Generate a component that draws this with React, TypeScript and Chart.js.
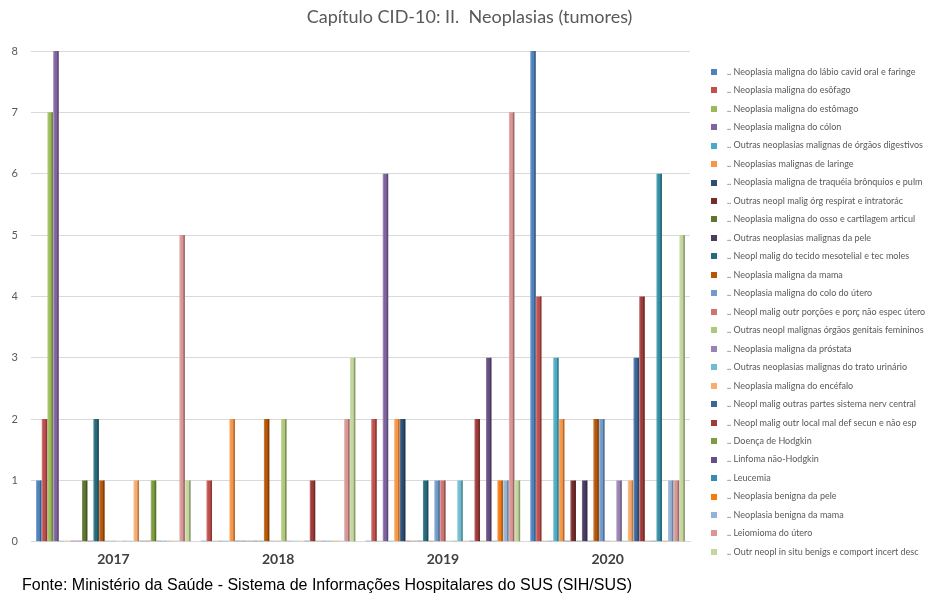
import React, { useEffect, useRef } from "react";
import { Chart, registerables } from "chart.js";

Chart.register(...registerables);

const years = ["2017", "2018", "2019", "2020"];

const seriesNames = [
  ".. Neoplasia maligna do lábio cavid oral e faringe",
  ".. Neoplasia maligna do esôfago",
  ".. Neoplasia maligna do estômago",
  ".. Neoplasia maligna do cólon",
  ".. Outras neoplasias malignas de órgãos digestivos",
  ".. Neoplasias malignas de laringe",
  ".. Neoplasia maligna de traquéia brônquios e pulm",
  ".. Outras neopl malig órg respirat e intratorác",
  ".. Neoplasia maligna do osso e cartilagem articul",
  ".. Outras neoplasias malignas da pele",
  ".. Neopl malig do tecido mesotelial e tec moles",
  ".. Neoplasia maligna da mama",
  ".. Neoplasia maligna do colo do útero",
  ".. Neopl malig outr porções e porç não espec útero",
  ".. Outras neopl malignas órgãos genitais femininos",
  ".. Neoplasia maligna da próstata",
  ".. Outras neoplasias malignas do trato urinário",
  ".. Neoplasia maligna do encéfalo",
  ".. Neopl malig outras partes sistema nerv central",
  ".. Neopl malig outr local mal def secun e não esp",
  ".. Doença de Hodgkin",
  ".. Linfoma não-Hodgkin",
  ".. Leucemia",
  ".. Neoplasia benigna da pele",
  ".. Neoplasia benigna da mama",
  ".. Leiomioma do útero",
  ".. Outr neopl in situ benigs e comport incert desc",
];

// Internações por ano, na mesma ordem de seriesNames
const values2017 = [1, 2, 7, 8, 0, 0, 0, 0, 1, 0, 2, 1, 0, 0, 0, 0, 0, 1, 0, 0, 1, 0, 0, 0, 0, 5, 1];
const values2018 = [0, 1, 0, 0, 0, 2, 0, 0, 0, 0, 0, 2, 0, 0, 2, 0, 0, 0, 0, 1, 0, 0, 0, 0, 0, 2, 3];
const values2019 = [0, 2, 0, 6, 0, 2, 2, 0, 0, 0, 1, 0, 1, 1, 0, 0, 1, 0, 0, 2, 0, 3, 0, 1, 1, 7, 1];
const values2020 = [8, 4, 0, 0, 3, 2, 0, 1, 0, 1, 0, 2, 2, 0, 0, 1, 0, 1, 3, 4, 0, 0, 6, 0, 1, 1, 5];

const yTicks = [0, 1, 2, 3, 4, 5, 6, 7, 8];

const palette = [
  "#4F81BD", "#C0504D", "#9BBB59", "#8064A2", "#4BACC6", "#F79646",
  "#2C4D75", "#772C2A", "#5F7530", "#4D3B62", "#276A7C", "#B65708",
  "#729ACA", "#CD7371", "#AFC97A", "#9983B5", "#6FBDD1", "#F9AB6B",
  "#3A679C", "#9F3B38", "#7E9C40", "#664F82", "#358EA6", "#F47B10",
  "#95B3D7", "#D99694", "#C3D69B",
];

// legend marker: small square drawn inside a wider transparent strip
function swatch(color: string): HTMLCanvasElement {
  const c = document.createElement("canvas");
  c.width = 22;
  c.height = 6;
  const g = c.getContext("2d")!;
  g.fillStyle = color;
  g.fillRect(11, 0, 6, 6);
  return c;
}

// darker right face on each column, like a shaded 3D bar
const barShade = {
  id: "barShade",
  afterDatasetsDraw(chart: any) {
    const ctx = chart.ctx;
    ctx.save();
    chart.data.datasets.forEach((ds: any, i: number) => {
      const meta = chart.getDatasetMeta(i);
      meta.data.forEach((el: any, j: number) => {
        if (!ds.data[j]) return;
        const { x, y, base, width } = el.getProps(["x", "y", "base", "width"], true);
        ctx.fillStyle = "rgba(0,0,0,0.28)";
        ctx.fillRect(x + width / 2 - 1.6, y, 1.6, base - y);
        ctx.fillStyle = "rgba(255,255,255,0.18)";
        ctx.fillRect(x - width / 2, y, 1.2, base - y);
      });
    });
    ctx.restore();
  },
};

export default function App() {
  const ref = useRef<HTMLCanvasElement>(null);

  useEffect(() => {
    const byYear = [values2017, values2018, values2019, values2020];
    const datasets = seriesNames.map((name, s) => ({
      label: name,
      data: byYear.map((arr) => arr[s]),
      backgroundColor: palette[s],
      borderWidth: 0,
      minBarLength: 1,
      pointStyle: swatch(palette[s]),
    }));

    const chart = new Chart(ref.current!, {
      type: "bar",
      data: { labels: years, datasets },
      plugins: [barShade],
      options: {
        animation: false,
        responsive: false,
        devicePixelRatio: 1,
        layout: { padding: { left: 12, right: 0, top: 0, bottom: 19.4 } },
        datasets: { bar: { categoryPercentage: 0.94, barPercentage: 0.95 } },
        scales: {
          x: {
            grid: { display: false, drawTicks: false },
            border: { display: true, color: "#D9D9D9" },
            ticks: {
              padding: 9,
              color: "#404040",
              font: { family: "Lato", size: 14, weight: "bold" },
            },
          },
          y: {
            min: 0,
            max: 8,
            afterFit: (scale: any) => {
              scale.width = 19;
            },
            afterBuildTicks: (scale: any) => {
              scale.ticks = yTicks.map((v) => ({ value: v }));
            },
            grid: { color: "#D9D9D9", drawTicks: false },
            border: { display: false },
            ticks: {
              padding: 13,
              color: "#595959",
              font: { family: "Lato", size: 11 },
            },
          },
        },
        plugins: {
          title: {
            display: true,
            text: "Capítulo CID-10: II.  Neoplasias (tumores)",
            color: "#595959",
            font: { family: "Lato", size: 18, weight: "normal" },
            padding: { top: 6.7, bottom: 22.7 },
          },
          legend: {
            position: "right",
            align: "start",
            maxWidth: 237,
            title: { display: true, text: "", font: { size: 10 }, padding: { top: 45.73, bottom: 0 } },
            labels: {
              usePointStyle: true,
              pointStyleWidth: 23.03,
              padding: 9.47,
              color: "#595959",
              font: { family: "Lato", size: 9 },
            },
          },
          tooltip: { enabled: false },
        },
      } as any,
    });
    return () => chart.destroy();
  }, []);

  return (
    <div style={{ position: "absolute", left: 0, top: 0, width: 927, height: 596, background: "#fff", overflow: "hidden" }}>
      <canvas ref={ref} width={927} height={596} style={{ position: "absolute", left: 0, top: 0 }} />
      <div
        style={{
          position: "absolute",
          left: 22,
          top: 575,
          fontFamily: "'Liberation Sans', Arial, sans-serif",
          fontSize: 16,
          color: "#000",
          whiteSpace: "nowrap",
          lineHeight: "19px",
        }}
      >
        Fonte: Ministério da Saúde - Sistema de Informações Hospitalares do SUS (SIH/SUS)
      </div>
    </div>
  );
}
